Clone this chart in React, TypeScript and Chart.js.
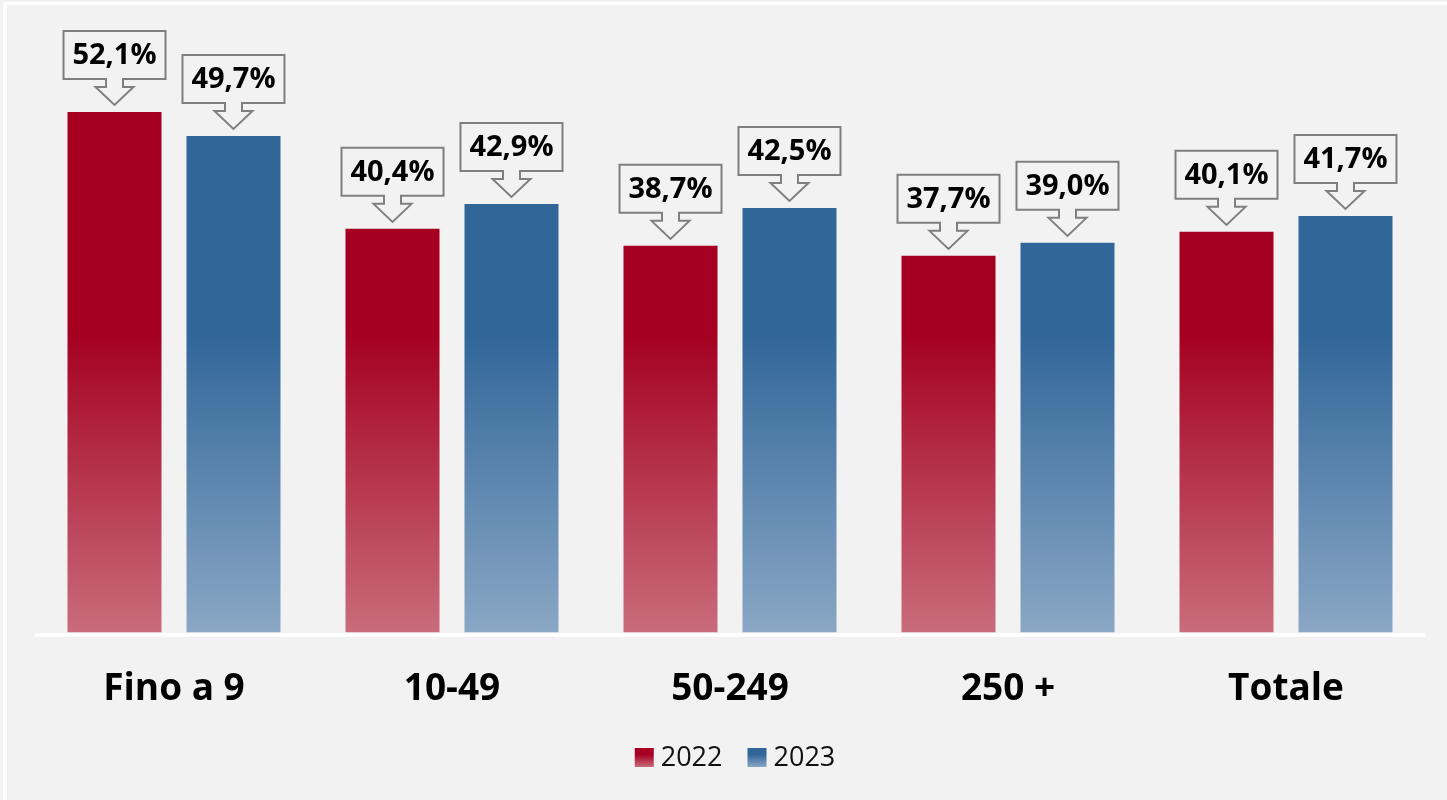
import React, { useEffect, useRef } from "react";
import { Chart, registerables } from "chart.js";

Chart.register(...registerables);

const categories = ["Fino a 9", "10-49", "50-249", "250 +", "Totale"];
const seriesLabels = ["2022", "2023"];
const values2022 = [52.1, 40.4, 38.7, 37.7, 40.1];
const values2023 = [49.7, 42.9, 42.5, 39.0, 41.7];
const yTicks = { min: 0, max: 60 };

const RED_TOP = "#a50021";
const RED_BOTTOM = "#c96c7b";
const BLUE_TOP = "#316699";
const BLUE_BOTTOM = "#8aa7c5";
const BG = "#f2f2f2";
const FONT = "'Open Sans', 'DejaVu Sans', sans-serif";

const fmt = (v: number) => v.toFixed(1).replace(".", ",") + "%";

function barGradient(top: string, bottom: string) {
  return (ctx: any) => {
    const chart = ctx.chart;
    const area = chart.chartArea;
    if (!area) return top;
    const g = chart.ctx.createLinearGradient(0, area.top, 0, area.bottom);
    g.addColorStop(0, top);
    g.addColorStop(0.5, top);
    g.addColorStop(1, bottom);
    return g;
  };
}

const calloutPlugin = {
  id: "callouts",
  afterDatasetsDraw(chart: any) {
    const ctx = chart.ctx;
    chart.data.datasets.forEach((ds: any, di: number) => {
      const meta = chart.getDatasetMeta(di);
      meta.data.forEach((el: any, i: number) => {
        const x = el.x;
        const y0 = el.y;
        const left = x - 51;
        const right = x + 51;
        const top = y0 - 81;
        const bottom = y0 - 33;
        const headY = y0 - 25;
        const tipY = y0 - 7;
        ctx.save();
        ctx.beginPath();
        ctx.moveTo(left, top);
        ctx.lineTo(right, top);
        ctx.lineTo(right, bottom);
        ctx.lineTo(x + 8.5, bottom);
        ctx.lineTo(x + 8.5, headY);
        ctx.lineTo(x + 19, headY);
        ctx.lineTo(x, tipY);
        ctx.lineTo(x - 19, headY);
        ctx.lineTo(x - 8.5, headY);
        ctx.lineTo(x - 8.5, bottom);
        ctx.lineTo(left, bottom);
        ctx.closePath();
        ctx.fillStyle = BG;
        ctx.fill();
        ctx.lineWidth = 2;
        ctx.strokeStyle = "#7f7f7f";
        ctx.lineJoin = "miter";
        ctx.stroke();
        ctx.fillStyle = "#000";
        ctx.font = `bold 29px ${FONT}`;
        ctx.textAlign = "center";
        ctx.textBaseline = "middle";
        ctx.fillText(fmt(ds.data[i]), x, y0 - 56);
        ctx.restore();
      });
    });
    // baseline
    const a = chart.chartArea;
    ctx.save();
    ctx.strokeStyle = "#ffffff";
    ctx.lineWidth = 3.5;
    ctx.beginPath();
    ctx.moveTo(a.left, a.bottom + 2.5);
    ctx.lineTo(a.right, a.bottom + 2.5);
    ctx.stroke();
    ctx.restore();
  },
};

const legendPlugin = {
  id: "customLegend",
  afterDraw(chart: any) {
    const ctx = chart.ctx;
    const box = 19;
    const gap = 7;
    const itemGap = 25;
    const boxTop = 743;
    const textY = 753;
    ctx.save();
    ctx.font = `27px ${FONT}`;
    const colors = [
      [RED_TOP, RED_BOTTOM],
      [BLUE_TOP, BLUE_BOTTOM],
    ];
    const widths = chart.data.datasets.map((d: any) => ctx.measureText(d.label).width);
    const total =
      widths.reduce((s: number, w: number) => s + box + gap + w, 0) + itemGap * (widths.length - 1);
    let x = chart.width / 2 + 8 - total / 2;
    chart.data.datasets.forEach((d: any, i: number) => {
      const g = ctx.createLinearGradient(0, boxTop, 0, boxTop + box);
      g.addColorStop(0, colors[i][0]);
      g.addColorStop(0.35, colors[i][0]);
      g.addColorStop(1, colors[i][1]);
      ctx.fillStyle = g;
      ctx.fillRect(x, boxTop, box, box);
      x += box + gap;
      ctx.fillStyle = "#111";
      ctx.textAlign = "left";
      ctx.textBaseline = "middle";
      ctx.fillText(d.label, x, textY);
      x += widths[i] + itemGap;
    });
    ctx.restore();
  },
};

export default function App() {
  const ref = useRef<HTMLCanvasElement | null>(null);
  useEffect(() => {
    document.body.style.margin = "0";
    document.body.style.background = BG;
    const c = ref.current;
    if (!c) return;
    const chart = new Chart(c, {
      type: "bar",
      data: {
        labels: categories,
        datasets: [
          {
            label: seriesLabels[0],
            data: values2022,
            backgroundColor: barGradient(RED_TOP, RED_BOTTOM),
            borderWidth: 0,
          },
          {
            label: seriesLabels[1],
            data: values2023,
            backgroundColor: barGradient(BLUE_TOP, BLUE_BOTTOM),
            borderWidth: 0,
          },
        ],
      },
      options: {
        animation: false,
        responsive: false,
        maintainAspectRatio: false,
        devicePixelRatio: 1,
        layout: { padding: { top: 28, left: 28, right: 22, bottom: 53 } },
        datasets: {
          bar: { categoryPercentage: 0.856, barPercentage: 0.79 },
        },
        plugins: {
          legend: { display: false },
          tooltip: { enabled: false },
        },
        scales: {
          x: {
            grid: { display: false, drawTicks: false },
            border: { display: false },
            ticks: {
              padding: 35,
              color: "#000",
              font: { family: FONT, size: 37, weight: "bold" },
            },
          },
          y: {
            display: false,
            min: yTicks.min,
            max: yTicks.max,
          },
        },
      },
      plugins: [calloutPlugin, legendPlugin],
    });
    return () => chart.destroy();
  }, []);

  return (
    <div
      style={{
        position: "fixed",
        left: 0,
        top: 0,
        width: 1447,
        height: 800,
        background: BG,
      }}
    >
      <div
        style={{
          position: "absolute",
          left: 3,
          top: 2,
          width: 1444,
          height: 798,
          background: "#ffffff",
        }}
      >
        <div
          style={{
            position: "absolute",
            left: 4,
            top: 3,
            width: 1440,
            height: 795,
            background: BG,
          }}
        >
          <canvas ref={ref} width={1440} height={795} style={{ display: "block" }} />
        </div>
      </div>
    </div>
  );
}
